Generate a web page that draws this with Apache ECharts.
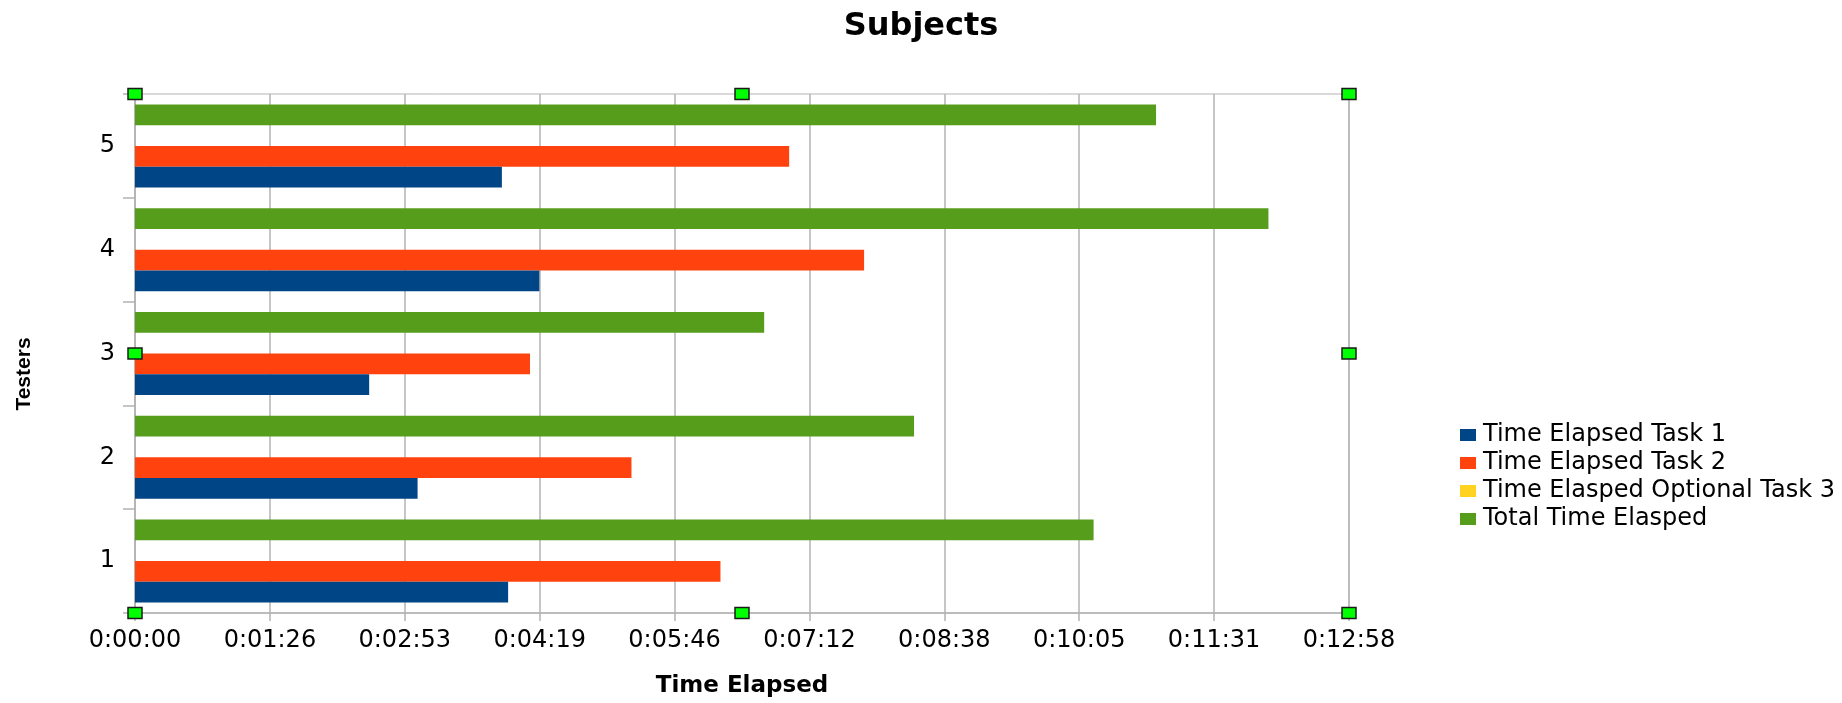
<!DOCTYPE html>
<html>
<head>
<meta charset="utf-8">
<script src="https://cdn.jsdelivr.net/npm/echarts@6/dist/echarts.min.js"></script>
<style>
html,body{margin:0;padding:0;background:#fff;}
#chart{width:1842px;height:703px;}
</style>
</head>
<body>
<div id="chart"></div>
<script>
// ---- data (seconds) ----
const categories = ['1', '2', '3', '4', '5'];
const task1 = [239, 181, 150, 259, 235];
const task2 = [375, 318, 253, 467, 419];
const task3 = [0, 0, 0, 0, 0];
const totalTime = [614, 499, 403, 726, 654];
const seriesNames = ['Time Elapsed Task 1', 'Time Elapsed Task 2', 'Time Elasped Optional Task 3', 'Total Time Elasped'];
const seriesColors = ['#004586', '#ff420e', '#ffd320', '#579d1c'];
const tickLabels = ['0:00:00', '0:01:26', '0:02:53', '0:04:19', '0:05:46', '0:07:12', '0:08:38', '0:10:05', '0:11:31', '0:12:58'];
const tickStep = 86.4;

const GRID = {left: 135, top: 94, width: 1214, height: 519};
const gray = '#b3b3b3';

function handles() {
  const xs = [GRID.left, GRID.left + GRID.width / 2, GRID.left + GRID.width];
  const ys = [GRID.top, GRID.top + GRID.height / 2, GRID.top + GRID.height];
  const out = [];
  ys.forEach((y, yi) => xs.forEach((x, xi) => {
    if (yi === 1 && xi === 1) return;
    out.push({type: 'rect', z: 100, shape: {x: x - 7, y: y - 5.5, width: 14, height: 11},
      style: {fill: '#00ff00', stroke: '#1a1a1a', lineWidth: 1.5}});
  }));
  return out;
}

const dataSets = [task1, task2, task3, totalTime];
// ECharts stacks the first bar series at the top of each band, so add them in reverse
const seriesList = seriesNames.map((n, i) => ({
  name: n, type: 'bar', data: dataSets[i],
  barGap: '0%', barCategoryGap: '20%',
  itemStyle: {color: seriesColors[i]}
})).reverse();

const chart = echarts.init(document.getElementById('chart'));
chart.setOption({
  backgroundColor: '#fff',
  animation: false,
  title: {
    text: 'Subjects', left: 'center', top: 6,
    textStyle: {fontFamily: 'DejaVu Sans', fontSize: 32, fontWeight: 'bold', color: '#000'}
  },
  legend: {
    orient: 'vertical', left: 1455, top: 418, itemGap: 4,
    icon: 'rect', itemWidth: 16, itemHeight: 12,
    data: seriesNames,
    textStyle: {fontFamily: 'DejaVu Sans', fontSize: 24, color: '#000', padding: [0, 0, 0, 2]}
  },
  grid: {left: GRID.left, top: GRID.top, width: GRID.width, height: GRID.height,
    show: true, borderColor: gray, borderWidth: 1, containLabel: false},
  xAxis: {
    type: 'value', min: 0, max: tickStep * 9, interval: tickStep,
    name: 'Time Elapsed', nameLocation: 'middle', nameGap: 62,
    nameTextStyle: {fontFamily: 'DejaVu Sans', fontSize: 23, fontWeight: 'bold', color: '#000'},
    axisLine: {show: true, lineStyle: {color: gray, width: 1.5}},
    axisTick: {show: true, length: 8, lineStyle: {color: gray, width: 1.5}},
    splitLine: {show: true, lineStyle: {color: gray, width: 1.5}},
    axisLabel: {
      margin: 16, fontFamily: 'DejaVu Sans', fontSize: 24, color: '#000',
      formatter: v => tickLabels[Math.round(v / tickStep)]
    }
  },
  yAxis: {
    type: 'category', data: categories,
    name: 'Testers', nameLocation: 'middle', nameGap: 100, nameRotate: 90,
    nameTextStyle: {fontFamily: 'Liberation Sans', fontSize: 21, fontWeight: 'bold', color: '#000', padding: [0, 41, 0, 0]},
    axisLine: {show: true, lineStyle: {color: gray, width: 1.5}},
    axisTick: {show: true, length: 12, lineStyle: {color: gray, width: 1.5}},
    splitLine: {show: false},
    axisLabel: {margin: 20, fontFamily: 'DejaVu Sans', fontSize: 24, color: '#000'}
  },
  graphic: handles(),
  series: seriesList
});
</script>
</body>
</html>
